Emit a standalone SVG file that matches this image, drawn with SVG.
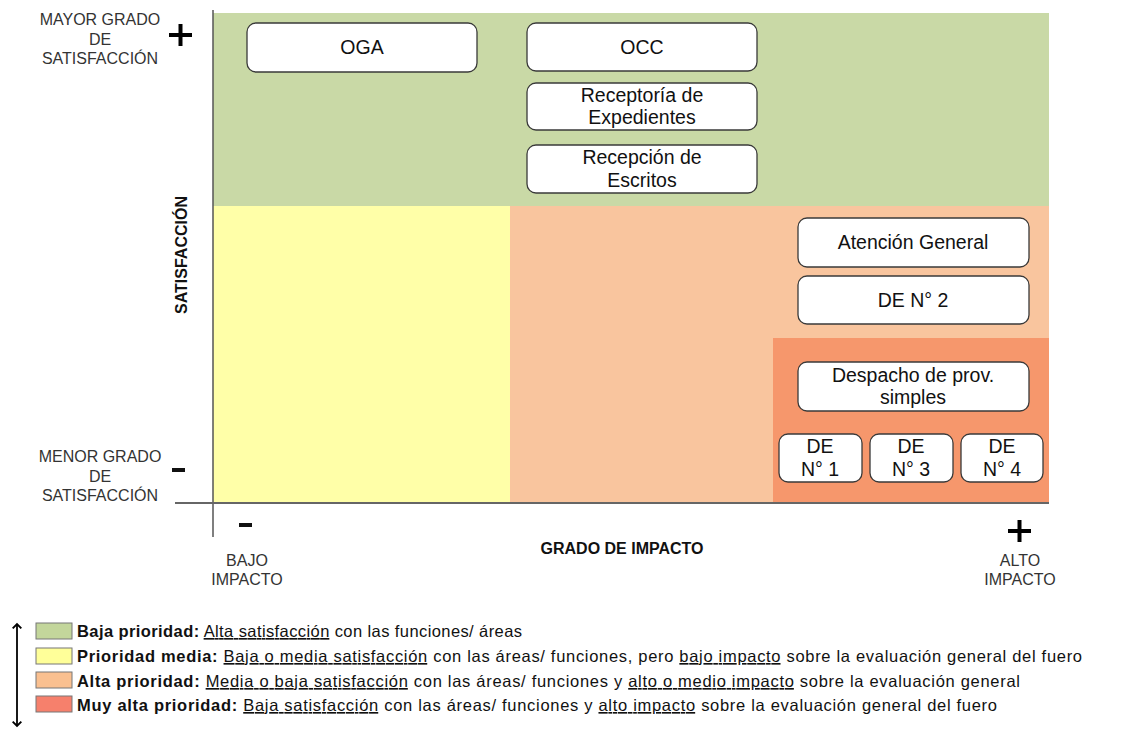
<svg xmlns="http://www.w3.org/2000/svg" width="1133" height="731" viewBox="0 0 1133 731">
<defs>
<style>
.t{font-family:"Liberation Sans",Arial,sans-serif;fill:#111;}
.node rect{fill:#fff;stroke:#3a3a3a;stroke-width:1.3;}
.nl{font-family:"Liberation Sans",Arial,sans-serif;font-size:19.5px;fill:#111;text-anchor:middle;}
.ax{font-family:"Liberation Sans",Arial,sans-serif;font-size:16px;fill:#333;text-anchor:middle;}
.lg{font-family:"Liberation Sans",Arial,sans-serif;font-size:16.5px;fill:#111;}
.u{text-decoration:underline;}
.b{font-weight:bold;}
.sw{stroke:#777;stroke-width:1;}
.pm{stroke:#000;stroke-width:4;}
</style>
<marker id="ah" viewBox="0 0 10 10" refX="5" refY="5" markerWidth="6" markerHeight="6" orient="auto-start-reverse">
<path d="M1,1 L5,5 L1,9" fill="none" stroke="#000" stroke-width="1.8"/>
</marker>
</defs>
<rect width="1133" height="731" fill="#fff"/>
<g id="regions">
<rect x="213" y="13" width="836" height="193" fill="#C9D9A6"/>
<rect x="213" y="206" width="297" height="297" fill="#FFFFA8"/>
<rect x="510" y="206" width="539" height="297" fill="#F9C59E"/>
<rect x="773" y="338" width="276" height="165" fill="#F6976C"/>
</g>
<g id="axes">
<line x1="213" y1="10" x2="213" y2="537" stroke="#555" stroke-width="1.5"/>
<line x1="175" y1="503" x2="1049" y2="503" stroke="#666" stroke-width="2"/>
<text class="ax" x="100" y="25">MAYOR GRADO</text>
<text class="ax" x="100" y="45">DE</text>
<text class="ax" x="100" y="64">SATISFACCIÓN</text>
<line class="pm" x1="169" y1="35" x2="192" y2="35"/>
<line class="pm" x1="180.5" y1="24" x2="180.5" y2="46"/>
<text class="ax" x="100" y="462">MENOR GRADO</text>
<text class="ax" x="100" y="482">DE</text>
<text class="ax" x="100" y="501">SATISFACCIÓN</text>
<rect x="172" y="468" width="13" height="4" fill="#111"/>
<text class="t" x="187" y="255" font-size="16" font-weight="bold" text-anchor="middle" transform="rotate(-90 187 255)">SATISFACCIÓN</text>
<rect x="239" y="523" width="13" height="4" fill="#111"/>
<text class="ax" x="247" y="566">BAJO</text>
<text class="ax" x="247" y="585">IMPACTO</text>
<text class="t" x="622" y="554" font-size="16" font-weight="bold" text-anchor="middle">GRADO DE IMPACTO</text>
<line class="pm" x1="1008" y1="531" x2="1031" y2="531"/>
<line class="pm" x1="1019.5" y1="520" x2="1019.5" y2="542"/>
<text class="ax" x="1020" y="566">ALTO</text>
<text class="ax" x="1020" y="585">IMPACTO</text>
</g>
<g id="n-oga" class="node"><rect x="247" y="23" width="230" height="49" rx="9"/><text class="nl" x="362" y="54">OGA</text></g>
<g id="n-occ" class="node"><rect x="527" y="23" width="230" height="48" rx="9"/><text class="nl" x="642" y="54">OCC</text></g>
<g id="n-receptoria" class="node"><rect x="527" y="83" width="230" height="47" rx="9"/><text class="nl" x="642" y="102">Receptoría de</text><text class="nl" x="642" y="124">Expedientes</text></g>
<g id="n-recepcion" class="node"><rect x="527" y="145" width="230" height="48" rx="9"/><text class="nl" x="642" y="164">Recepción de</text><text class="nl" x="642" y="187">Escritos</text></g>
<g id="n-atencion" class="node"><rect x="798" y="218" width="231" height="49" rx="9"/><text class="nl" x="913" y="249">Atención General</text></g>
<g id="n-de2" class="node"><rect x="798" y="276" width="231" height="48" rx="9"/><text class="nl" x="913" y="307">DE N° 2</text></g>
<g id="n-despacho" class="node"><rect x="798" y="362" width="231" height="49" rx="9"/><text class="nl" x="913" y="382">Despacho de prov.</text><text class="nl" x="913" y="404">simples</text></g>
<g id="n-de1" class="node"><rect x="779" y="434" width="83" height="48" rx="9"/><text class="nl" x="820" y="453">DE</text><text class="nl" x="820" y="476">N° 1</text></g>
<g id="n-de3" class="node"><rect x="870" y="434" width="83" height="48" rx="9"/><text class="nl" x="911" y="453">DE</text><text class="nl" x="911" y="476">N° 3</text></g>
<g id="n-de4" class="node"><rect x="961" y="434" width="82" height="48" rx="9"/><text class="nl" x="1002" y="453">DE</text><text class="nl" x="1002" y="476">N° 4</text></g>
<g id="connectors">
<line x1="17" y1="624" x2="17" y2="726" stroke="#000" stroke-width="1.8" marker-start="url(#ah)" marker-end="url(#ah)"/>
</g>
<g id="legend">
<rect class="sw" x="36" y="623" width="36" height="16" fill="#C3D69B"/>
<rect class="sw" x="36" y="648" width="36" height="16" fill="#FFFF99"/>
<rect class="sw" x="36" y="672" width="36" height="16" fill="#FAC090"/>
<rect class="sw" x="36" y="696" width="36" height="16" fill="#F6806C"/>
<text class="lg" x="77" y="637" textLength="445" lengthAdjust="spacing"><tspan class="b">Baja prioridad:</tspan> <tspan class="u">Alta satisfacción</tspan> con las funciones/ áreas</text>
<text class="lg" x="77" y="662" textLength="1005" lengthAdjust="spacing"><tspan class="b">Prioridad media:</tspan> <tspan class="u">Baja o media satisfacción</tspan> con las áreas/ funciones, pero <tspan class="u">bajo impacto</tspan> sobre la evaluación general del fuero</text>
<text class="lg" x="77" y="687" textLength="943" lengthAdjust="spacing"><tspan class="b">Alta prioridad:</tspan> <tspan class="u">Media o baja satisfacción</tspan> con las áreas/ funciones y <tspan class="u">alto o medio impacto</tspan> sobre la evaluación general</text>
<text class="lg" x="77" y="711" textLength="920" lengthAdjust="spacing"><tspan class="b">Muy alta prioridad:</tspan> <tspan class="u">Baja satisfacción</tspan> con las áreas/ funciones y <tspan class="u">alto impacto</tspan> sobre la evaluación general del fuero</text>
</g>
</svg>
